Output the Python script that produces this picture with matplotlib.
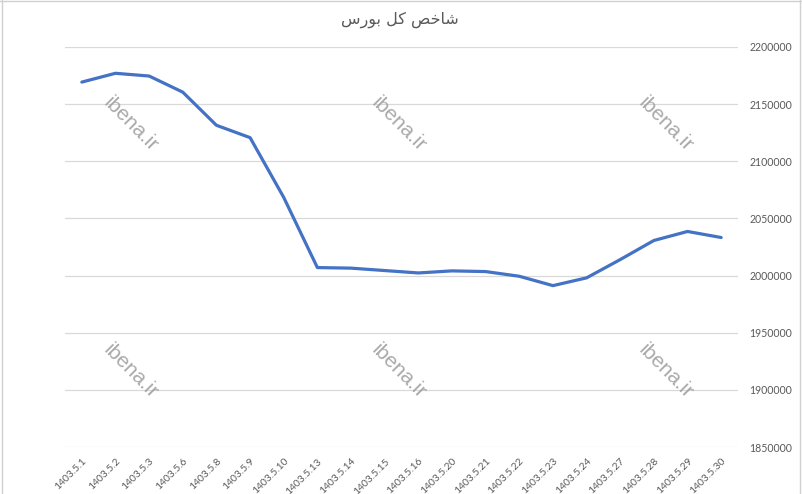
import matplotlib
matplotlib.use("Agg")
import matplotlib.pyplot as plt
from matplotlib.lines import Line2D

# Data
dates = ["1403.5.1", "1403.5.2", "1403.5.3", "1403.5.6", "1403.5.8", "1403.5.9",
         "1403.5.10", "1403.5.13", "1403.5.14", "1403.5.15", "1403.5.16", "1403.5.20",
         "1403.5.21", "1403.5.22", "1403.5.23", "1403.5.24", "1403.5.27", "1403.5.28",
         "1403.5.29", "1403.5.30"]
index_values = [2169300, 2177000, 2174600, 2160500, 2131500, 2120700,
                2068400, 2007000, 2006500, 2004400, 2002300, 2004100,
                2003500, 1999400, 1991200, 1998000, 2014000, 2030700,
                2038600, 2033300]
y_ticks = [1850000, 1900000, 1950000, 2000000, 2050000, 2100000, 2150000, 2200000]
# "شاخص کل بورس" in Arabic presentation forms, visual order
title_text = "\uFEB1\uFEAD\uFEEE\uFE91 \uFEDE\uFB90 \uFEBA\uFEA7\uFE8E\uFEB7"
watermark = "ibena.ir"

W, H = 802, 494
fig = plt.figure(figsize=(W / 100, H / 100), dpi=100)
left, right, top, bottom = 65, 738, 47, 447
ax = fig.add_axes([left / W, 1 - bottom / H, (right - left) / W, (bottom - top) / H])

x = list(range(len(dates)))
ax.plot(x, index_values, color="#4472C4", linewidth=2.3, solid_joinstyle="round",
        solid_capstyle="round", zorder=3)

ax.set_xlim(-0.5, len(dates) - 0.5)
ax.set_ylim(y_ticks[0], y_ticks[-1])
ax.set_yticks(y_ticks)
ax.set_yticklabels([str(v) for v in y_ticks], family="Lato")
ax.yaxis.tick_right()
ax.grid(axis="y", color="#d9d9d9", linewidth=0.9)
ax.set_axisbelow(True)
for s in ax.spines.values():
    s.set_visible(False)
ax.tick_params(axis="y", length=0, pad=8, labelsize=7.6, labelcolor="#595959")
ax.set_xticks(x)
ax.set_xticklabels(dates, rotation=45, ha="right", va="top", rotation_mode="anchor",
                   family="Lato")
ax.tick_params(axis="x", length=0, pad=7, labelsize=7.4, labelcolor="#595959")

fig.text(400 / W, 1 - 20 / H, title_text, ha="center", va="center",
         fontsize=11.5, color="#595959", family=["DejaVu Sans"])

# watermarks
for (cx, cy) in [(131, 124), (399, 124), (666, 124), (131, 371), (399, 371), (666, 371)]:
    fig.text(cx / W, 1 - cy / H, watermark, ha="center", va="center", rotation=-45,
             fontsize=15, color="#a0a0a0", alpha=0.9, zorder=5, family="Liberation Sans")

# frame lines
fig.add_artist(Line2D([2 / W, 2 / W], [0, 1], color="#d0d0d0", linewidth=1))
fig.add_artist(Line2D([800 / W, 800 / W], [0, 1], color="#d0d0d0", linewidth=1))
fig.add_artist(Line2D([0, 1], [1 - 1 / H, 1 - 1 / H], color="#d0d0d0", linewidth=1))

fig.savefig("out.png", dpi=100, facecolor="white")
